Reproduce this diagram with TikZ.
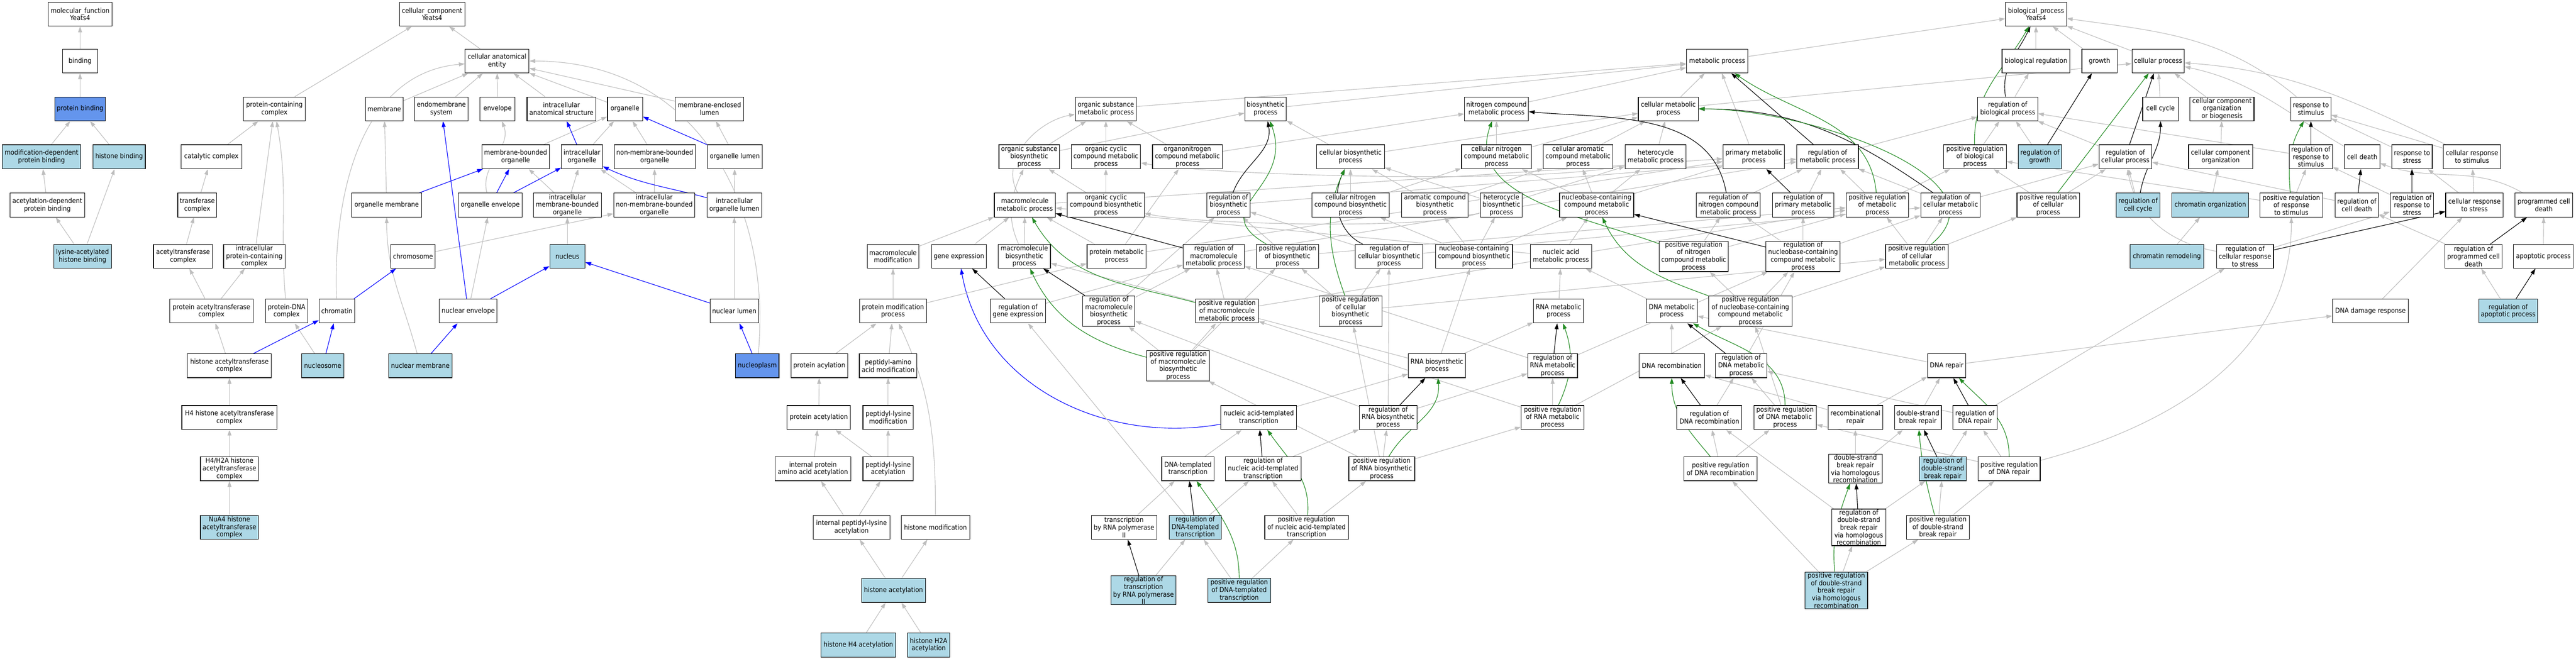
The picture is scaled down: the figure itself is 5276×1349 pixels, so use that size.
\documentclass[tikz,border=0pt]{standalone}
\usepackage{fontspec}
\setmainfont{DejaVu Sans}[FakeStretch=0.9]
\usetikzlibrary{arrows.meta, backgrounds}

\definecolor{lblue}{HTML}{ADD8E6}
\definecolor{cblue}{HTML}{6495ED}
\definecolor{egray}{HTML}{BEBEBE}
\definecolor{fgreen}{HTML}{228B22}
\definecolor{pblue}{HTML}{0000FF}

\tikzset{
  term/.style={draw=black, line width=1.2pt, fill=white, rectangle, align=center,
    minimum height=49pt, inner xsep=2pt, inner ysep=1pt, font=\fontsize{14}{15.5}\selectfont},
  seed/.style={term, fill=lblue},
  hit/.style={term, fill=cblue},
  wd/.style={minimum width=#1},
  tip/.style={-{Triangle[length=12pt,width=8pt]}},
  isa/.style={color=egray, line width=1.2pt, tip},
  partof/.style={color=pblue, line width=1.2pt, tip},
  reg/.style={color=black, line width=1.2pt, tip},
  preg/.style={color=fgreen, line width=1.2pt, tip}
}

\begin{document}
\begin{tikzpicture}[x=1pt, y=1pt]
\useasboundingbox (0,0) rectangle (5276,-1349);

% molecular function
\node[term, wd=131] (mf) at (164,-29) {molecular\_function\\Yeats4};
\node[term, wd=72] (binding) at (164,-125) {binding};
\node[hit, wd=104] (pbind) at (164,-223) {protein binding};
\node[seed, wd=161] (modbind) at (85,-321) {modification-dependent\\protein binding};
\node[seed, wd=107] (hisbind) at (244,-321) {histone binding};
\node[term, wd=153] (acbind) at (97,-420) {acetylation-dependent\\protein binding};
\node[seed, wd=118] (lysbind) at (169,-525) {lysine-acetylated\\histone binding};

% cellular component
\node[term, wd=134] (cc) at (885,-29) {cellular\_component\\Yeats4};
\node[term, wd=131] (cae) at (1018,-125) {cellular anatomical\\entity};
\node[term, wd=126] (pcc) at (562,-223) {protein-containing\\complex};
\node[term, wd=77] (membrane) at (787,-223) {membrane};
\node[term, wd=110] (endo) at (904,-223) {endomembrane\\system};
\node[term, wd=72] (envelope) at (1019,-223) {envelope};
\node[term, wd=141] (ias) at (1150,-223) {intracellular\\anatomical structure};
\node[term, wd=72] (organelle) at (1280,-223) {organelle};
\node[term, wd=140] (mel) at (1453,-223) {membrane-enclosed\\lumen};
\node[term, wd=124] (catc) at (433,-321) {catalytic complex};
\node[term, wd=138] (mbo) at (1056,-321) {membrane-bounded\\organelle};
\node[term, wd=84] (io) at (1192,-321) {intracellular\\organelle};
\node[term, wd=166] (nmbo) at (1341,-321) {non-membrane-bounded\\organelle};
\node[term, wd=112] (olumen) at (1505,-321) {organelle lumen};
\node[term, wd=80] (trc) at (404,-420) {transferase\\complex};
\node[term, wd=143] (omem) at (792,-420) {organelle membrane};
\node[term, wd=131] (oenv) at (1004,-420) {organelle envelope};
\node[term, wd=139] (imbo) at (1162,-420) {intracellular\\membrane-bounded\\organelle};
\node[term, wd=166] (inmbo) at (1340,-420) {intracellular\\non-membrane-bounded\\organelle};
\node[term, wd=112] (iol) at (1504,-420) {intracellular\\organelle lumen};
\node[term, wd=121] (atc) at (375,-525) {acetyltransferase\\complex};
\node[term, wd=126] (ipcc) at (521,-525) {intracellular\\protein-containing\\complex};
\node[term, wd=91] (chrom) at (846,-525) {chromosome};
\node[seed, wd=72] (nucleus) at (1162,-525) {nucleus};
\node[term, wd=171] (patc) at (433,-637) {protein acetyltransferase\\complex};
\node[term, wd=87] (pdna) at (587,-637) {protein-DNA\\complex};
\node[term, wd=73] (chromatin) at (690,-637) {chromatin};
\node[term, wd=118] (nenv) at (959,-637) {nuclear envelope};
\node[term, wd=99] (nlumen) at (1504,-637) {nuclear lumen};
\node[term, wd=172] (hatc) at (470,-749) {histone acetyltransferase\\complex};
\node[seed, wd=86] (nucleosome) at (661,-749) {nucleosome};
\node[seed, wd=129] (nmem) at (861,-749) {nuclear membrane};
\node[hit, wd=89] (nplasm) at (1551,-749) {nucleoplasm};
\node[term, wd=195] (h4hat) at (470,-855) {H4 histone acetyltransferase\\complex};
\node[term, wd=119] (h4h2a) at (470,-960) {H4/H2A histone\\acetyltransferase\\complex};
\node[seed, wd=119] (nua4) at (470,-1080) {NuA4 histone\\acetyltransferase\\complex};

% biological process
\node[term, wd=125] (bp) at (4170,-29) {biological\_process\\Yeats4};
\node[term, wd=126] (mp) at (3517,-125) {metabolic process};
\node[term, wd=139] (bioreg) at (4170,-125) {biological regulation};
\node[term, wd=72] (growth) at (4300,-125) {growth};
\node[term, wd=107] (cproc) at (4420,-125) {cellular process};

\node[term, wd=125] (osm) at (2265,-223) {organic substance\\metabolic process};
\node[term, wd=85] (bsyn) at (2592,-223) {biosynthetic\\process};
\node[term, wd=131] (ncmp) at (3065,-223) {nitrogen compound\\metabolic process};
\node[term, wd=123] (cmp) at (3417,-223) {cellular metabolic\\process};
\node[term, wd=123] (rbp) at (4112,-223) {regulation of\\biological process};
\node[term, wd=73] (ccyc) at (4425,-223) {cell cycle};
\node[term, wd=131] (ccob) at (4551,-223) {cellular component\\organization\\or biogenesis};
\node[term, wd=82] (rstim) at (4733,-223) {response to\\stimulus};

\node[term, wd=124] (ossp) at (2108,-321) {organic substance\\biosynthetic\\process};
\node[term, wd=142] (occmp) at (2265,-321) {organic cyclic\\compound metabolic\\process};
\node[term, wd=143] (oncmp) at (2432,-321) {organonitrogen\\compound metabolic\\process};
\node[term, wd=139] (cbp) at (2766,-321) {cellular biosynthetic\\process};
\node[term, wd=143] (cncmp) at (3065,-321) {cellular nitrogen\\compound metabolic\\process};
\node[term, wd=142] (cacmp) at (3232,-321) {cellular aromatic\\compound metabolic\\process};
\node[term, wd=125] (hmp) at (3391,-321) {heterocycle\\metabolic process};
\node[term, wd=126] (pmp) at (3592,-321) {primary metabolic\\process};
\node[term, wd=126] (rmp) at (3743,-321) {regulation of\\metabolic process};
\node[term, wd=128] (prbp) at (4045,-321) {positive regulation\\of biological\\process};
\node[seed, wd=89] (rgrowth) at (4178,-321) {regulation of\\growth};
\node[term, wd=108] (rcp) at (4353,-321) {regulation of\\cellular process};
\node[term, wd=131] (cco) at (4548,-321) {cellular component\\organization};
\node[term, wd=88] (rrs) at (4733,-321) {regulation of\\response to\\stimulus};
\node[term, wd=72] (cdeath) at (4838,-321) {cell death};
\node[term, wd=83] (rstress) at (4940,-321) {response to\\stress};
\node[term, wd=117] (crs) at (5063,-321) {cellular response\\to stimulus};

\node[term, wd=125] (mmp) at (2099,-420) {macromolecule\\metabolic process};
\node[term, wd=158] (occbp) at (2265,-420) {organic cyclic\\compound biosynthetic\\process};
\node[term, wd=88] (rbsyn) at (2516,-420) {regulation of\\biosynthetic\\process};
\node[term, wd=158] (cncbp) at (2766,-420) {cellular nitrogen\\compound biosynthetic\\process};
\node[term, wd=136] (acbp) at (2939,-420) {aromatic compound\\biosynthetic\\process};
\node[term, wd=86] (hbp) at (3075,-420) {heterocycle\\biosynthetic\\process};
\node[term, wd=152] (ncbmp) at (3270,-420) {nucleobase-containing\\compound metabolic\\process};
\node[term, wd=131] (rncmp) at (3540,-420) {regulation of\\nitrogen compound\\metabolic process};
\node[term, wd=125] (rpmp) at (3693,-420) {regulation of\\primary metabolic\\process};
\node[term, wd=128] (prmp) at (3845,-420) {positive regulation\\of metabolic\\process};
\node[term, wd=122] (rcmp) at (3995,-420) {regulation of\\cellular metabolic\\process};
\node[term, wd=128] (prcp) at (4195,-420) {positive regulation\\of cellular\\process};
\node[seed, wd=89] (rccyc) at (4379,-420) {regulation of\\cell cycle};
\node[seed, wd=157] (chorg) at (4527,-420) {chromatin organization};
\node[term, wd=128] (prrs) at (4693,-420) {positive regulation\\of response\\to stimulus};
\node[term, wd=89] (rcd) at (4827,-420) {regulation of\\cell death};
\node[term, wd=89] (rrstress) at (4940,-420) {regulation of\\response to\\stress};
\node[term, wd=118] (crstress) at (5068,-420) {cellular response\\to stress};
\node[term, wd=119] (pcd) at (5210,-420) {programmed cell\\death};

\node[term, wd=106] (mmod) at (1829,-525) {macromolecule\\modification};
\node[term, wd=112] (gexp) at (1964,-525) {gene expression};
\node[term, wd=107] (mbp) at (2098,-525) {macromolecule\\biosynthetic\\process};
\node[term, wd=121] (protmp) at (2287,-525) {protein metabolic\\process};
\node[term, wd=125] (rmmp) at (2486,-525) {regulation of\\macromolecule\\metabolic process};
\node[term, wd=128] (prbsyn) at (2637,-525) {positive regulation\\of biosynthetic\\process};
\node[term, wd=138] (rcbp) at (2845,-525) {regulation of\\cellular biosynthetic\\process};
\node[term, wd=158] (ncbbp) at (3019,-525) {nucleobase-containing\\compound biosynthetic\\process};
\node[term, wd=126] (nacmp) at (3197,-525) {nucleic acid\\metabolic process};
\node[term, wd=142] (prncmp) at (3469,-525) {positive regulation\\of nitrogen\\compound metabolic\\process};
\node[term, wd=152] (rncbmp) at (3693,-525) {regulation of\\nucleobase-containing\\compound metabolic\\process};
\node[term, wd=128] (prcmp) at (3926,-525) {positive regulation\\of cellular\\metabolic process};
\node[seed, wd=151] (chrem) at (4438,-525) {chromatin remodeling};
\node[term, wd=117] (rcrts) at (4598,-525) {regulation of\\cellular response\\to stress};
\node[term, wd=117] (rpcd) at (5066,-525) {regulation of\\programmed cell\\death};
\node[term, wd=122] (apop) at (5209,-525) {apoptotic process};

\node[term, wd=137] (pmod) at (1829,-637) {protein modification\\process};
\node[term, wd=113] (rgexp) at (2085,-637) {regulation of\\gene expression};
\node[term, wd=107] (rmbp) at (2271,-637) {regulation of\\macromolecule\\biosynthetic\\process};
\node[term, wd=128] (prmmp) at (2513,-637) {positive regulation\\of macromolecule\\metabolic process};
\node[term, wd=129] (pcbp) at (2766,-637) {positive regulation\\of cellular\\biosynthetic\\process};
\node[term, wd=102] (rnamp) at (3192,-637) {RNA metabolic\\process};
\node[term, wd=104] (dnamp) at (3424,-637) {DNA metabolic\\process};
\node[term, wd=171] (prncbmp) at (3585,-637) {positive regulation\\of nucleobase-containing\\compound metabolic\\process};
\node[term, wd=155] (ddr) at (4855,-637) {DNA damage response};
\node[seed, wd=120] (rap) at (5137,-637) {regulation of\\apoptotic process};

\node[term, wd=116] (pacyl) at (1678,-749) {protein acylation};
\node[term, wd=118] (paam) at (1819,-749) {peptidyl-amino\\acid modification};
\node[term, wd=129] (prmbp) at (2413,-749) {positive regulation\\of macromolecule\\biosynthetic\\process};
\node[term, wd=117] (rnabp) at (2943,-749) {RNA biosynthetic\\process};
\node[term, wd=102] (rrnamp) at (3180,-749) {regulation of\\RNA metabolic\\process};
\node[term, wd=134] (dnarec) at (3424,-749) {DNA recombination};
\node[term, wd=105] (rdnamp) at (3566,-749) {regulation of\\DNA metabolic\\process};
\node[term, wd=78] (dnarep) at (3987,-749) {DNA repair};

\node[term, wd=130] (pacet) at (1677,-855) {protein acetylation};
\node[term, wd=103] (plmod) at (1819,-855) {peptidyl-lysine\\modification};
\node[term, wd=155] (natt) at (2578,-855) {nucleic acid-templated\\transcription};
\node[term, wd=118] (rrnabp) at (2843,-855) {regulation of\\RNA biosynthetic\\process};
\node[term, wd=129] (prrnamp) at (3180,-855) {positive regulation\\of RNA metabolic\\process};
\node[term, wd=133] (rdnarec) at (3501,-855) {regulation of\\DNA recombination};
\node[term, wd=128] (prdnamp) at (3656,-855) {positive regulation\\of DNA metabolic\\process};
\node[term, wd=112] (recrep) at (3800,-855) {recombinational\\repair};
\node[term, wd=96] (dsbr) at (3928,-855) {double-strand\\break repair};
\node[term, wd=90] (rdnarep) at (4045,-855) {regulation of\\DNA repair};

\node[term, wd=155] (ipaa) at (1665,-960) {internal protein\\amino acid acetylation};
\node[term, wd=103] (placet) at (1819,-960) {peptidyl-lysine\\acetylation};
\node[term, wd=107] (dtt) at (2433,-960) {DNA-templated\\transcription};
\node[term, wd=155] (rnatt) at (2587,-960) {regulation of\\nucleic acid-templated\\transcription};
\node[term, wd=135] (prrnabp) at (2830,-960) {positive regulation\\of RNA biosynthetic\\process};
\node[term, wd=150] (prdnarec) at (3524,-960) {positive regulation\\of DNA recombination};
\node[term, wd=110] (dsbhr) at (3800,-960) {double-strand\\break repair\\via homologous\\recombination};
\node[seed, wd=96] (rdsbr) at (3979,-960) {regulation of\\double-strand\\break repair};
\node[term, wd=127] (prdnarep) at (4115,-960) {positive regulation\\of DNA repair};

\node[term, wd=157] (iplacet) at (1744,-1080) {internal peptidyl-lysine\\acetylation};
\node[term, wd=140] (hmod) at (1916,-1080) {histone modification};
\node[term, wd=134] (trnap) at (2302,-1080) {transcription\\by RNA polymerase\\II};
\node[seed, wd=106] (rdtt) at (2448,-1080) {regulation of\\DNA-templated\\transcription};
\node[term, wd=171] (prnatt) at (2676,-1080) {positive regulation\\of nucleic acid-templated\\transcription};
\node[term, wd=111] (rdsbhr) at (3807,-1080) {regulation of\\double-strand\\break repair\\via homologous\\recombination};
\node[term, wd=128] (prdsbr) at (3969,-1080) {positive regulation\\of double-strand\\break repair};

\node[seed, wd=131] (hacet) at (1830,-1209) {histone acetylation};
\node[seed, wd=133] (rtrnap) at (2342,-1209) {regulation of\\transcription\\by RNA polymerase\\II};
\node[seed, wd=129] (prdtt) at (2538,-1209) {positive regulation\\of DNA-templated\\transcription};
\node[seed, wd=128] (prdsbhr) at (3761,-1209) {positive regulation\\of double-strand\\break repair\\via homologous\\recombination};

\node[seed, wd=153] (h4acet) at (1758,-1321) {histone H4 acetylation};
\node[seed, wd=86] (h2aacet) at (1902,-1321) {histone H2A\\acetylation};

\begin{pgfonlayer}{background}
\fill[white] (0,0) rectangle (5276,-1349);

\path[isa]
(binding) edge (mf) (pbind) edge (binding) (modbind) edge (pbind) (hisbind) edge (pbind)
(acbind) edge (modbind) (lysbind) edge (acbind) (lysbind) edge (hisbind)
(pcc) edge (cc) (cae) edge (cc)
(membrane) edge (cae) (endo) edge (cae) (envelope) edge (cae) (ias) edge (cae)
(organelle) edge (cae) (mel) edge (cae)
(chromatin) edge[out=92, in=185] (cae)
(nplasm) edge[out=85, in=0, looseness=1.1] (cae)
(catc) edge (pcc) (ipcc) edge (pcc) (pdna) edge[out=95, in=-80] (pcc)
(trc) edge (catc) (atc) edge (trc) (patc) edge (atc) (patc) edge (ipcc)
(hatc) edge (patc) (nucleosome) edge (pdna)
(omem) edge (membrane) (nmem) edge[out=105, in=-90] (omem)
(mbo) edge (organelle) (io) edge (organelle) (nmbo) edge (organelle) (olumen) edge (mel)
(oenv) edge[out=105, in=-70] (envelope)
(imbo) edge (mbo) (imbo) edge (io) (inmbo) edge (io) (inmbo) edge (nmbo) (iol) edge (olumen)
(chrom) edge (inmbo) (nucleus) edge (imbo) (nenv) edge (oenv) (nlumen) edge (iol)
(h4hat) edge (hatc) (h4h2a) edge (h4hat) (nua4) edge (h4h2a);

\path[partof]
(hatc) edge (chromatin) (nucleosome) edge (chromatin) (chromatin) edge (chrom)
(omem) edge (mbo) (nmem) edge (nenv) (nenv) edge (endo) (nenv) edge (nucleus)
(oenv) edge (mbo) (oenv) edge (io) (io) edge (ias) (olumen) edge (organelle)
(iol) edge[out=165, in=-25] (io) (nlumen) edge (nucleus) (nplasm) edge (nlumen)
(natt) edge[out=190, in=-80] (gexp);

\path[isa]
(mp) edge (bp) (bioreg) edge (bp) (growth) edge (bp) (cproc) edge (bp)
(rstim) edge[out=140, in=-8] (bp)
(osm) edge (mp) (bsyn) edge (mp) (ncmp) edge (mp) (cmp) edge (mp) (pmp) edge (mp)
(cmp) edge (cproc) (ccyc) edge (cproc) (ccob) edge (cproc)
(cdeath) edge[out=150, in=-12] (cproc) (crs) edge[out=155, in=-4] (cproc)
(rbp) edge (bioreg)
(ossp) edge (osm) (ossp) edge (bsyn) (occmp) edge (osm) (oncmp) edge (osm) (oncmp) edge (ncmp)
(cbp) edge (bsyn) (cbp) edge (cmp) (cncmp) edge (ncmp) (cncmp) edge (cmp)
(cacmp) edge (cmp) (hmp) edge (cmp)
(hmp) edge[out=-165, in=-10, looseness=0.4] (occmp)
(rmp) edge (rbp) (prbp) edge (rbp) (rgrowth) edge (rbp) (rcp) edge (rbp) (rrs) edge (rbp)
(cco) edge (ccob) (rstress) edge (rstim) (crs) edge (rstim)
(mmp) edge[out=120, in=190] (osm) (mmp) edge (pmp)
(occbp) edge (occmp) (occbp) edge (ossp) (rbsyn) edge (rmp)
(cncbp) edge (cbp) (cncbp) edge (cncmp) (acbp) edge (cbp) (acbp) edge (cacmp)
(hbp) edge (cbp) (hbp) edge (hmp) (hbp) edge[out=-160, in=-12, looseness=0.4] (occbp)
(ncbmp) edge (cncmp) (ncbmp) edge (cacmp) (ncbmp) edge (hmp) (ncbmp) edge (pmp)
(rncmp) edge (rmp) (rpmp) edge (rmp) (prmp) edge (rmp) (prmp) edge (prbp)
(rcmp) edge (rmp) (rcmp) edge (rcp) (prcp) edge (prbp) (prcp) edge (rcp) (rccyc) edge (rcp)
(chorg) edge (cco) (prrs) edge (rrs) (prrs) edge (prbp) (rcd) edge (rcp)
(rrstress) edge (rrs) (crstress) edge (rstress) (crstress) edge (crs) (pcd) edge[out=150, in=-20] (cdeath)
(mmod) edge (mmp) (gexp) edge (mmp) (mbp) edge (mmp) (mbp) edge[out=115, in=-115] (ossp)
(protmp) edge (mmp) (protmp) edge (oncmp) (protmp) edge (pmp)
(rmmp) edge (rmp) (prbsyn) edge (rbsyn) (prbsyn) edge (prmp)
(rcbp) edge (rbsyn) (rcbp) edge (rcmp)
(ncbbp) edge (ncbmp) (ncbbp) edge (cncbp) (ncbbp) edge (acbp) (ncbbp) edge (hbp)
(nacmp) edge (ncbmp) (nacmp) edge (mmp)
(prncmp) edge (rncmp) (prncmp) edge (prmp)
(rncbmp) edge (rncmp) (rncbmp) edge (rpmp) (rncbmp) edge (rcmp)
(prcmp) edge (prmp) (prcmp) edge (rcmp) (prcmp) edge (prcp)
(chrem) edge (chorg) (rcrts) edge (rrstress) (rcrts) edge[out=170, in=-80] (rcp)
(rpcd) edge (rcd) (apop) edge (pcd)
(pmod) edge (mmod) (pmod) edge (protmp)
(rgexp) edge (rmmp) (rmbp) edge (rbsyn) (rmbp) edge (rmmp)
(prmmp) edge (rmmp) (prmmp) edge (prmp)
(pcbp) edge (rcbp) (pcbp) edge (prbsyn) (pcbp) edge (prcmp)
(rnamp) edge (nacmp) (dnamp) edge (nacmp)
(prncbmp) edge (rncbmp) (prncbmp) edge (prcmp) (prncbmp) edge (prncmp)
(ddr) edge (crstress) (rap) edge (rpcd)
(paam) edge (pmod) (pacyl) edge (pmod) (hmod) edge[out=90, in=-65] (pmod)
(prmbp) edge (rmbp) (prmbp) edge (prmmp) (prmbp) edge (prbsyn)
(rnabp) edge (ncbbp) (rnabp) edge (rnamp) (rnabp) edge (mbp)
(rrnamp) edge (rncbmp) (rrnamp) edge (rmmp)
(dnarec) edge (dnamp) (rdnamp) edge (rncbmp)
(dnarep) edge (dnamp) (dnarep) edge (ddr)
(pacet) edge (pacyl) (plmod) edge (paam)
(natt) edge (rnabp) (rrnabp) edge (rrnamp) (rrnabp) edge (rcbp) (rrnabp) edge (rmbp)
(prrnamp) edge (rrnamp) (prrnamp) edge (prncbmp) (prrnamp) edge (prmmp)
(rdnarec) edge (rdnamp) (prdnamp) edge (rdnamp) (prdnamp) edge (prncbmp)
(recrep) edge (dnarep) (recrep) edge (dnarec) (dsbr) edge (dnarep)
(rdnarep) edge (rdnamp) (rdnarep) edge (rcrts)
(ipaa) edge (pacet) (placet) edge (pacet) (placet) edge (plmod)
(dtt) edge (natt) (rnatt) edge (rrnabp)
(prrnabp) edge (rrnabp) (prrnabp) edge (prrnamp) (prrnabp) edge (pcbp) (prrnabp) edge (prmbp)
(prdnarec) edge (rdnarec) (prdnarec) edge (prdnamp)
(dsbhr) edge (recrep) (dsbhr) edge (dsbr) (rdsbr) edge (rdnarep)
(prdnarep) edge (rdnarep) (prdnarep) edge (prdnamp) (prdnarep) edge[out=15, in=-90] (prrs)
(iplacet) edge (ipaa) (iplacet) edge (placet)
(trnap) edge (dtt) (rdtt) edge (rnatt) (rdtt) edge (rgexp)
(prnatt) edge (rnatt) (prnatt) edge (prrnabp)
(rdsbhr) edge (rdsbr) (rdsbhr) edge (rdnarec) (prdsbr) edge (rdsbr) (prdsbr) edge (prdnarep)
(hacet) edge (iplacet) (hacet) edge (hmod)
(rtrnap) edge (rdtt) (prdtt) edge (rdtt) (prdtt) edge (prnatt)
(prdsbhr) edge (rdsbhr) (prdsbhr) edge (prdsbr) (prdsbhr) edge (prdnarec)
(h4acet) edge (hacet) (h2aacet) edge (hacet);

\path[reg]
(rbp) edge[out=100, in=-115] (bp) (rgrowth) edge (growth) (rcp) edge (cproc)
(rmp) edge (mp) (rpmp) edge (pmp) (rcmp) edge[out=145, in=0] (cmp)
(rncmp) edge[out=100, in=-5] (ncmp) (rbsyn) edge[out=70, in=-80] (bsyn)
(rmmp) edge (mmp) (rgexp) edge (gexp) (rmbp) edge (mbp)
(rcbp) edge[out=155, in=-115] (cbp) (rncbmp) edge (ncbmp)
(rrnamp) edge (rnamp) (rrnabp) edge (rnabp) (rdnamp) edge (dnamp)
(rdnarec) edge (dnarec) (rdnarep) edge (dnarep) (rdsbr) edge (dsbr) (rdsbhr) edge (dsbhr)
(rtrnap) edge (trnap) (rdtt) edge (dtt) (rnatt) edge (natt)
(rccyc) edge[out=80, in=-90] (ccyc) (rrs) edge (rstim) (rcd) edge (cdeath)
(rrstress) edge (rstress) (rcrts) edge (crstress) (rpcd) edge (pcd) (rap) edge (apop);

\path[preg]
(prbp) edge[out=92, in=-120] (bp) (prcp) edge (cproc)
(prmp) edge[out=95, in=-35] (mp) (prcmp) edge[out=40, in=0] (cmp)
(prncmp) edge[out=160, in=-110] (ncmp) (prbsyn) edge[out=150, in=-70, looseness=1.5] (bsyn)
(prmmp) edge[out=165, in=-60] (mmp) (prmbp) edge[out=165, in=-65] (mbp)
(pcbp) edge[out=110, in=-115] (cbp) (prncbmp) edge[out=160, in=-65] (ncbmp)
(prrnamp) edge[out=65, in=-70] (rnamp) (prrnabp) edge[out=60, in=-85] (rnabp)
(prdnamp) edge[out=90, in=-30] (dnamp) (prdnarec) edge[out=130, in=-90] (dnarec)
(prdnarep) edge[out=90, in=-45] (dnarep) (prdsbr) edge[out=105, in=-85] (dsbr)
(prdsbhr) edge[out=95, in=-110] (dsbhr) (prdtt) edge[out=90, in=-55] (dtt)
(prnatt) edge[out=85, in=-55] (natt) (prrs) edge[out=95, in=-120] (rstim);
\end{pgfonlayer}
\end{tikzpicture}
\end{document}
